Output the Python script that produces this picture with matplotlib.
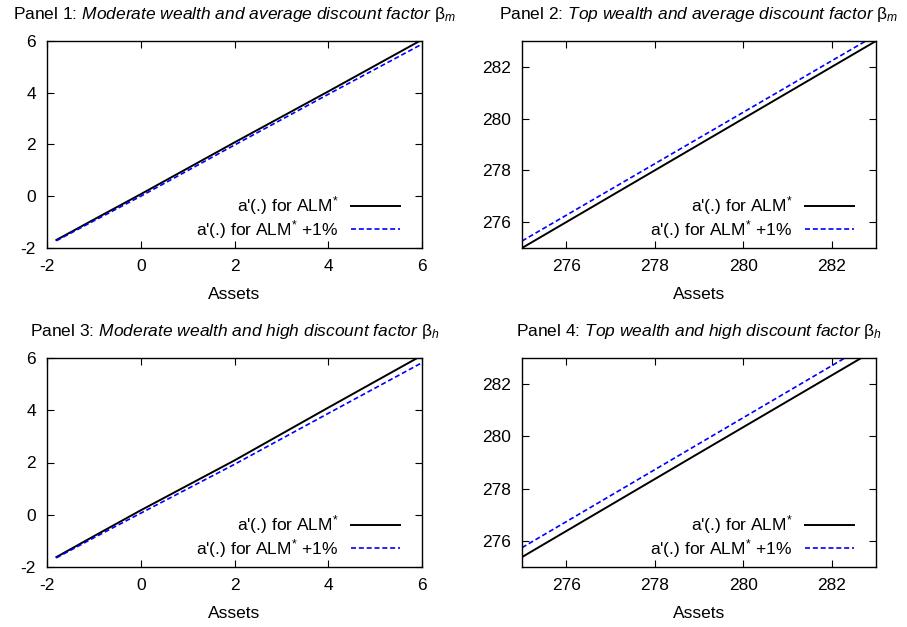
import matplotlib
matplotlib.use("Agg")
import matplotlib.pyplot as plt

plt.rcParams["font.family"] = ["Liberation Sans", "DejaVu Sans"]
plt.rcParams["mathtext.fontset"] = "custom"
plt.rcParams["mathtext.rm"] = "Liberation Sans"
plt.rcParams["mathtext.it"] = "Liberation Sans:italic"
plt.rcParams["axes.unicode_minus"] = False
plt.rcParams["font.size"] = 12.5

# moderate wealth grid (panels 1 and 3)
assets_mod = [-1.8, -1.0, 0.0, 2.0, 4.0, 6.0]
p1_alm = [-1.69, -0.90, 0.08, 2.08, 4.05, 6.05]
p1_alm_up = [-1.72, -0.95, 0.00, 1.98, 3.94, 5.88]
p3_alm = [-1.62, -0.82, 0.17, 2.08, 4.10, 6.10]
p3_alm_up = [-1.65, -0.88, 0.06, 1.93, 3.88, 5.82]

# top wealth grid (panels 2 and 4)
assets_top = [275.0, 279.0, 283.0]
p2_alm = [275.00, 279.00, 283.00]
p2_alm_up = [275.27, 279.25, 283.23]
p4_alm = [275.38, 279.36, 283.33]
p4_alm_up = [275.74, 279.72, 283.70]

ticks_mod = [-2, 0, 2, 4, 6]
ticks_top = [276, 278, 280, 282]

titles = [
    r"Panel 1: $\mathit{Moderate\ wealth\ and\ average\ discount\ factor}\ \mathrm{β}_m$",
    r"Panel 2: $\mathit{Top\ wealth\ and\ average\ discount\ factor}\ \mathrm{β}_m$",
    r"Panel 3: $\mathit{Moderate\ wealth\ and\ high\ discount\ factor}\ \mathrm{β}_h$",
    r"Panel 4: $\mathit{Top\ wealth\ and\ high\ discount\ factor}\ \mathrm{β}_h$",
]
label_alm = r"a'(.) for ALM$^{*}$"
label_up = r"a'(.) for ALM$^{*}$ +1%"

W, H = 907, 627
# axes boxes in pixels: left, top, right, bottom
boxes = [
    (47, 41, 422, 248),
    (522, 41, 876, 248),
    (47, 358, 422, 567),
    (522, 358, 876, 567),
]

panels = [
    (assets_mod, p1_alm, p1_alm_up, (-2, 6), ticks_mod),
    (assets_top, p2_alm, p2_alm_up, (275, 283), ticks_top),
    (assets_mod, p3_alm, p3_alm_up, (-2, 6), ticks_mod),
    (assets_top, p4_alm, p4_alm_up, (275, 283), ticks_top),
]

fig = plt.figure(figsize=(W / 100, H / 100), dpi=100)

for i, (x, base, up, lim, ticks) in enumerate(panels):
    l, t, r, b = boxes[i]
    ax = fig.add_axes([l / W, 1 - b / H, (r - l) / W, (b - t) / H])
    ax.plot(x, base, color="black", lw=1.4, label=label_alm)
    ax.plot(x, up, color="blue", lw=1.2, ls=(0, (3, 1.7)), label=label_up)
    ax.set_xlim(lim)
    ax.set_ylim(lim)
    ax.set_xticks(ticks)
    ax.set_yticks(ticks)
    ax.tick_params(direction="in", top=True, right=True, length=5, width=0.8,
                   pad=8, labelsize=12.5)
    for s in ax.spines.values():
        s.set_linewidth(1.0)
    ax.set_xlabel("Assets", fontsize=12.5, labelpad=9)
    ax.set_title(titles[i], fontsize=12.5, pad=16)
    wpx = r - l
    hpx = b - t
    ax.legend(loc="lower right", bbox_to_anchor=(1 - 22 / wpx, 7 / hpx),
              frameon=False, markerfirst=False, handlelength=2.8,
              handletextpad=0.75, labelspacing=0.05, borderpad=0,
              borderaxespad=0, fontsize=12.5)

fig.savefig("out.png", dpi=100)
